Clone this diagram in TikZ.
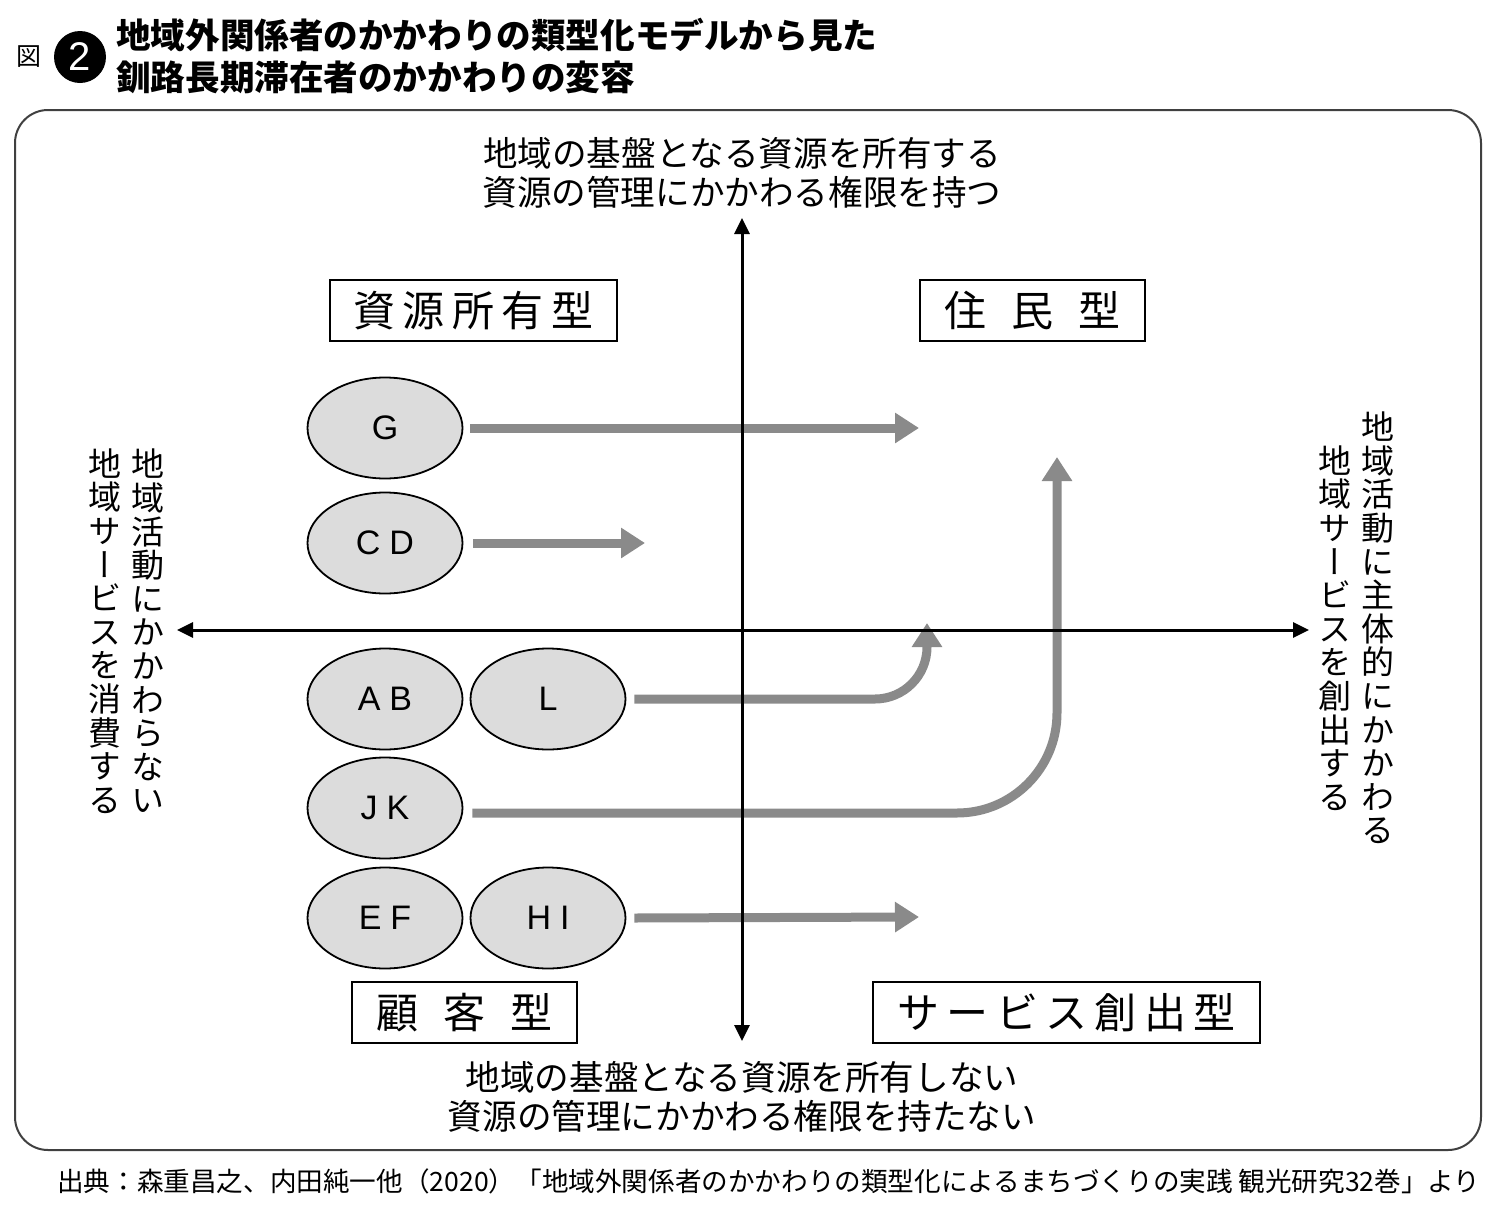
\documentclass[tikz,border=0pt]{standalone}
\usepackage{fontspec}
\setmainfont{Liberation Sans}
\newfontfamily\jp{Noto Sans CJK JP}
\newfontfamily\jpv[RawFeature=+vert]{Noto Sans CJK JP}
\usetikzlibrary{arrows.meta,shapes.geometric}
\definecolor{ellgray}{HTML}{DCDCDC}
\definecolor{arrgray}{HTML}{8A8A8A}
\definecolor{framegray}{HTML}{404040}
\tikzset{
  ell/.style={ellipse, draw=black, line width=1.8pt, fill=ellgray, minimum width=155pt, minimum height=101pt, inner sep=0pt, font=\fontsize{34}{34}\selectfont},
  garrow/.style={draw=arrgray, line width=9pt, -{Triangle[length=24pt,width=29pt]}},
  axisline/.style={draw=black, line width=3pt, {Triangle[length=16pt,width=15pt]}-{Triangle[length=16pt,width=15pt]}},
  typebox/.style={draw=black, line width=2.5pt, inner sep=0pt, minimum height=61pt, font=\jp\fontsize{42}{42}\selectfont},
  axtext/.style={align=center, inner sep=0pt, font=\jp\fontsize{34.6}{39.5}\selectfont},
  vtext/.style={align=center, inner sep=0pt, font=\jpv\fontsize{33}{33.6}\selectfont},
}
\begin{document}
\begin{tikzpicture}[x=1pt,y=-1pt]
\useasboundingbox (0,0) rectangle (1500,1205);
% title
\node[inner sep=0pt, font=\jp\fontsize{25}{25}\selectfont] (zu) at (29,57) {図};
\node[circle, fill=black, minimum size=52pt, inner sep=0pt, text=white, font=\fontsize{40}{40}\selectfont] (num) at (80,57) {2};
\node[anchor=west, align=left, inner sep=0pt, font=\jp\bfseries\fontsize{34.6}{42}\selectfont] (title) at (116,56) {地域外関係者のかかわりの類型化モデルから見た\\釧路長期滞在者のかかわりの変容};
% frame
\draw[line width=2pt, draw=framegray, rounded corners=33pt] (15,110) rectangle (1481,1150);
% axis texts
\node[axtext] (toptext) at (742,173) {地域の基盤となる資源を所有する\\資源の管理にかかわる権限を持つ};
\node[axtext] (bottext) at (742,1097) {地域の基盤となる資源を所有しない\\資源の管理にかかわる権限を持たない};
\node[vtext] (l1) at (148,631) {地\\域\\活\\動\\に\\か\\か\\わ\\ら\\な\\い};
\node[vtext] (l2) at (105,631) {地\\域\\サ\\ー\\ビ\\ス\\を\\消\\費\\す\\る};
\node[vtext] (r1) at (1378,628) {地\\域\\活\\動\\に\\主\\体\\的\\に\\か\\か\\わ\\る};
\node[vtext] (r2) at (1335,628) {地\\域\\サ\\ー\\ビ\\ス\\を\\創\\出\\す\\る};
% type boxes
\node[typebox, minimum width=287pt] (b1) at (473.5,310.5) {資\hspace{7.5pt}源\hspace{7.5pt}所\hspace{7.5pt}有\hspace{7.5pt}型};
\node[typebox, minimum width=225pt] (b2) at (1032.5,310.5) {住\hspace{25pt}民\hspace{25pt}型};
\node[typebox, minimum width=225pt] (b3) at (464.5,1012.5) {顧\hspace{25pt}客\hspace{25pt}型};
\node[typebox, minimum width=387pt] (b4) at (1066.5,1012.5) {サ\hspace{7.5pt}ー\hspace{7.5pt}ビ\hspace{7.5pt}ス\hspace{7.5pt}創\hspace{7.5pt}出\hspace{7.5pt}型};
% ellipses
\node[ell] (G) at (385,428) {G};
\node[ell] (CD) at (385,543) {C\hspace{9pt}D};
\node[ell] (AB) at (385,699) {A\hspace{9pt}B};
\node[ell] (L) at (548,699) {L};
\node[ell] (JK) at (385,808) {J\hspace{9pt}K};
\node[ell] (EF) at (385,918) {E\hspace{9pt}F};
\node[ell] (HI) at (548,918) {H\hspace{9pt}I};
% arrow end points
\coordinate (gend) at (919,428);
\coordinate (cdend) at (645,543);
\coordinate (lend) at (927,623);
\coordinate (jkend) at (1057,457);
\coordinate (hiend) at (919,917);
% gray arrows
\draw[garrow] ([xshift=7pt]G.east) -- (gend);
\draw[garrow] ([xshift=10pt]CD.east) -- (cdend);
\draw[garrow, rounded corners=52pt] ([xshift=8pt]L.east) -| (lend);
\draw[garrow, rounded corners=100pt] ([xshift=9pt,yshift=-5pt]JK.east) -| (jkend);
\draw[garrow] ([xshift=8pt]HI.east) -- (hiend);
% axes
\coordinate (axl) at (177,630);
\coordinate (axr) at (1309,630);
\coordinate (axt) at (742,218);
\coordinate (axb) at (742,1041);
\draw[axisline] (axl) -- (axr);
\draw[axisline] (axt) -- (axb);
% footer
\node[inner sep=0pt, font=\jp\fontsize{26.6}{26.6}\selectfont] (src) at (769,1181) {出典：森重昌之、内田純一他（2020）「地域外関係者のかかわりの類型化によるまちづくりの実践 観光研究32巻」より};
\end{tikzpicture}
\end{document}
